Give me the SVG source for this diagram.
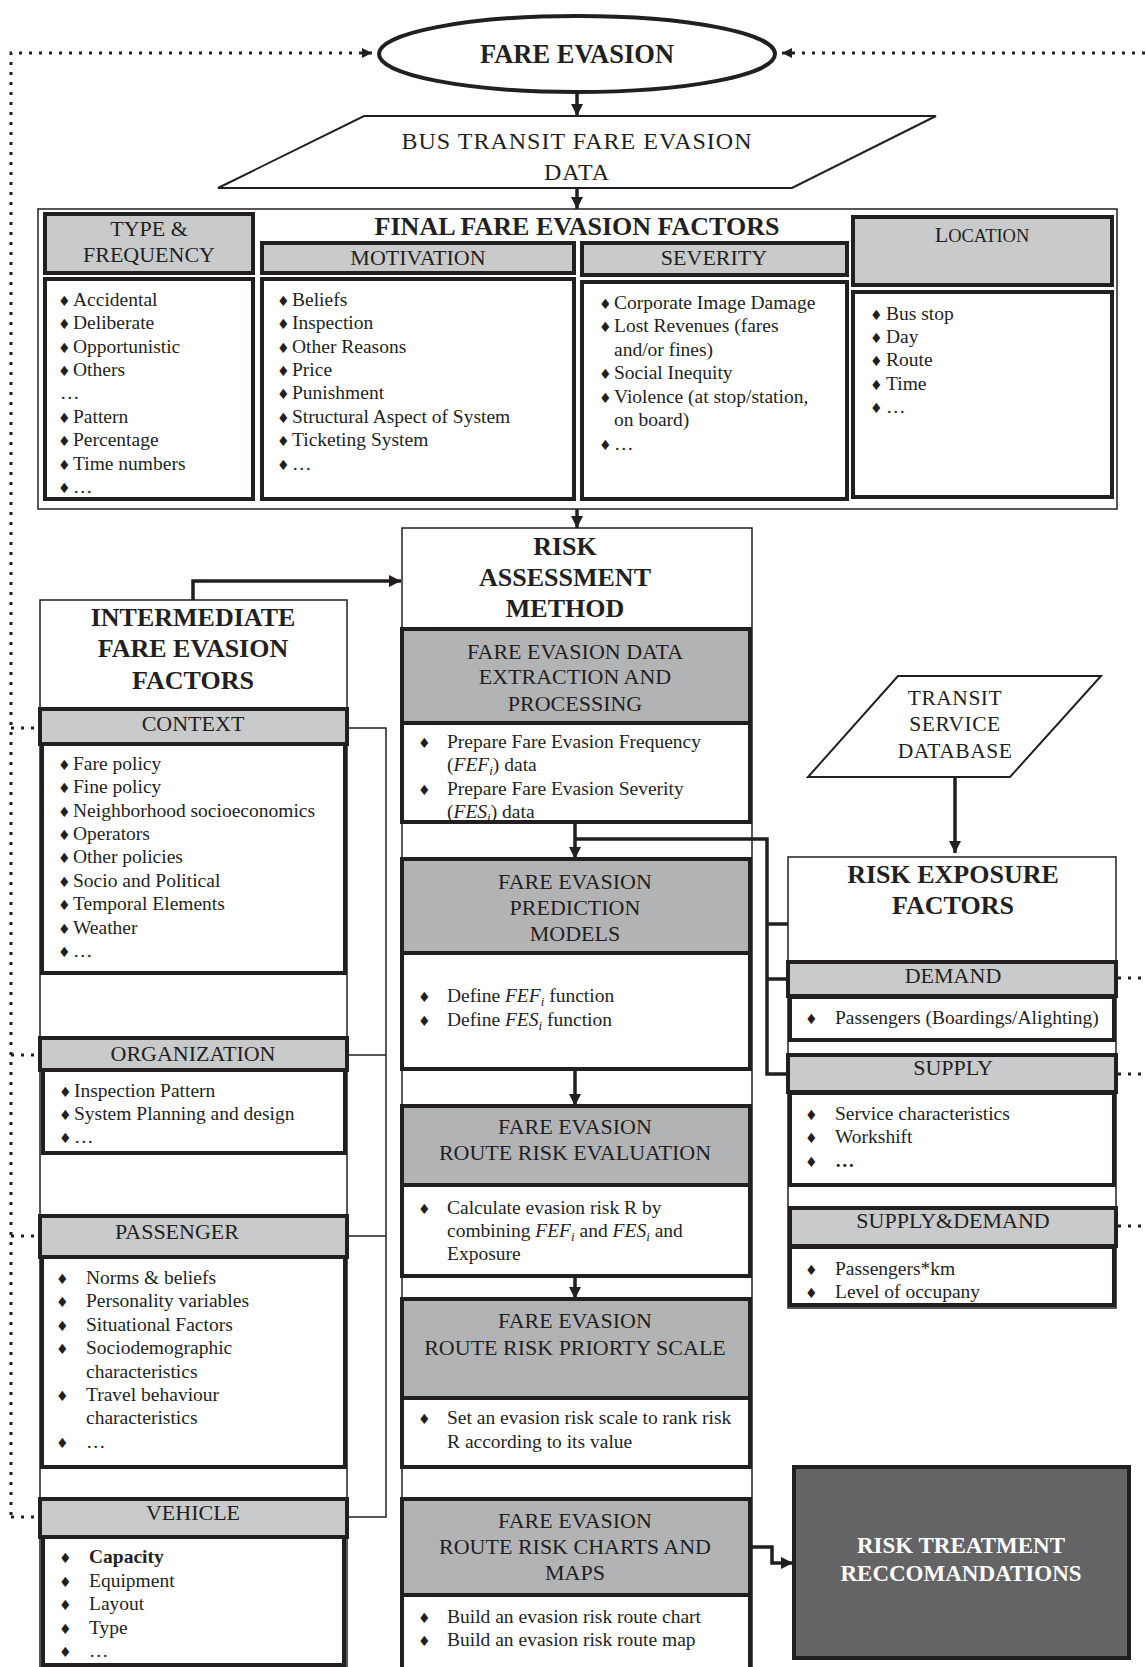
<svg xmlns="http://www.w3.org/2000/svg" width="1145" height="1667" viewBox="0 0 1145 1667">
<style>
text{font-family:"Liberation Serif","DejaVu Serif",serif;fill:#231f20}
.h{font-size:22px;text-anchor:middle}
.b{font-size:26px;font-weight:bold;text-anchor:middle}
.i{font-size:19.5px}
.d{font-size:14px;font-family:"DejaVu Sans",sans-serif}
.it{font-style:italic}
.sub{font-size:13px;font-style:italic}
.lg{fill:#c9cacc;stroke:#231f20;stroke-width:4}
.dg{fill:#b2b3b5;stroke:#231f20;stroke-width:4}
.wb{fill:#fff;stroke:#231f20;stroke-width:4}
.thin{fill:none;stroke:#231f20;stroke-width:1.5}
.con{fill:none;stroke:#231f20;stroke-width:3.5}
.dot{fill:none;stroke:#231f20;stroke-width:3;stroke-dasharray:3 7}
</style>
<defs>
<marker id="ah" viewBox="0 0 10 10" refX="10" refY="5" markerWidth="12" markerHeight="12" markerUnits="userSpaceOnUse" orient="auto">
<path d="M0,0 L10,5 L0,10 z" fill="#231f20"/>
</marker>
<marker id="ahs" viewBox="0 0 10 10" refX="10" refY="5" markerWidth="10" markerHeight="10" markerUnits="userSpaceOnUse" orient="auto">
<path d="M0,0 L10,5 L0,10 z" fill="#231f20"/>
</marker>
</defs>
<rect width="1145" height="1667" fill="#fff"/>

<g id="connectors">
<path class="dot" d="M11,1515 L11,53 L372,53" marker-end="url(#ahs)"/>
<path class="dot" d="M1145,53 L782,53" marker-end="url(#ahs)"/>
<path class="dot" d="M11,728 L36,728 M11,1055 L36,1055 M11,1236 L36,1236 M11,1517 L36,1517"/>
<path class="dot" d="M1118,978 L1145,978 M1118,1074 L1145,1074 M1118,1226 L1145,1226"/>
<path class="con" d="M577,92 L577,116" marker-end="url(#ah)"/>
<path class="con" d="M577,188 L577,209" marker-end="url(#ah)"/>
<path class="con" d="M577,509 L577,528" marker-end="url(#ah)"/>
<path class="con" d="M193,600 L193,581 L401,581" marker-end="url(#ah)"/>
<path class="con" d="M575,822 L575,859" marker-end="url(#ah)"/>
<path class="con" d="M575,839 L767,839 L767,1074 L788,1074 M767,924 L788,924 M767,979 L788,979"/>
<path class="con" d="M575,1069 L575,1106" marker-end="url(#ah)"/>
<path class="con" d="M575,1276 L575,1299" marker-end="url(#ah)"/>
<path class="con" d="M752,1547 L772,1547 L772,1563 L793,1563" marker-end="url(#ah)"/>
<path class="con" d="M955,777 L955,853" marker-end="url(#ah)"/>
<path class="thin" d="M347,728 L386,728 L386,1517 L347,1517 M347,1055 L386,1055 M347,1236 L386,1236"/>
</g>

<g id="fare-evasion">
<ellipse cx="577" cy="54" rx="198" ry="38" fill="#fff" stroke="#231f20" stroke-width="4"/>
<text class="b" x="577" y="63" style="font-size:26.5px">FARE EVASION</text>
</g>

<g id="bus-transit-data">
<polygon points="364,116 936,116 792,188 218,188" fill="#fff" stroke="#231f20" stroke-width="2"/>
<text x="577" y="149" style="font-size:24px;letter-spacing:1px;text-anchor:middle">BUS TRANSIT FARE EVASION</text>
<text x="577" y="180" style="font-size:24px;letter-spacing:1px;text-anchor:middle">DATA</text>
</g>

<g id="final-factors">
<rect class="thin" x="38" y="209" width="1079" height="300"/>
<text class="b" x="577" y="235">FINAL FARE EVASION FACTORS</text>
</g>

<g id="type-frequency">
<rect class="lg" x="45" y="214" width="208" height="59"/>
<text class="h" x="149" y="236">TYPE &amp;</text>
<text class="h" x="149" y="262">FREQUENCY</text>
<rect class="wb" x="45" y="279" width="208" height="220"/>
<text class="i" y="306"><tspan class="d" x="58">♦</tspan><tspan x="73">Accidental</tspan></text>
<text class="i" y="329"><tspan class="d" x="58">♦</tspan><tspan x="73">Deliberate</tspan></text>
<text class="i" y="353"><tspan class="d" x="58">♦</tspan><tspan x="73">Opportunistic</tspan></text>
<text class="i" y="376"><tspan class="d" x="58">♦</tspan><tspan x="73">Others</tspan></text>
<text class="i" x="60" y="399">…</text>
<text class="i" y="423"><tspan class="d" x="58">♦</tspan><tspan x="73">Pattern</tspan></text>
<text class="i" y="446"><tspan class="d" x="58">♦</tspan><tspan x="73">Percentage</tspan></text>
<text class="i" y="470"><tspan class="d" x="58">♦</tspan><tspan x="73">Time numbers</tspan></text>
<text class="i" y="493"><tspan class="d" x="58">♦</tspan><tspan x="73">…</tspan></text>
</g>

<g id="motivation">
<rect class="lg" x="262" y="243" width="312" height="30"/>
<text class="h" x="418" y="265">MOTIVATION</text>
<rect class="wb" x="262" y="279" width="312" height="220"/>
<text class="i" y="306"><tspan class="d" x="277">♦</tspan><tspan x="292">Beliefs</tspan></text>
<text class="i" y="329"><tspan class="d" x="277">♦</tspan><tspan x="292">Inspection</tspan></text>
<text class="i" y="353"><tspan class="d" x="277">♦</tspan><tspan x="292">Other Reasons</tspan></text>
<text class="i" y="376"><tspan class="d" x="277">♦</tspan><tspan x="292">Price</tspan></text>
<text class="i" y="399"><tspan class="d" x="277">♦</tspan><tspan x="292">Punishment</tspan></text>
<text class="i" y="423"><tspan class="d" x="277">♦</tspan><tspan x="292">Structural Aspect of System</tspan></text>
<text class="i" y="446"><tspan class="d" x="277">♦</tspan><tspan x="292">Ticketing System</tspan></text>
<text class="i" y="470"><tspan class="d" x="277">♦</tspan><tspan x="292">…</tspan></text>
</g>

<g id="severity">
<rect class="lg" x="582" y="243" width="265" height="32"/>
<text class="h" x="714" y="265">SEVERITY</text>
<rect class="wb" x="582" y="282" width="265" height="217"/>
<text class="i" y="309"><tspan class="d" x="599">♦</tspan><tspan x="614">Corporate Image Damage</tspan></text>
<text class="i" y="332"><tspan class="d" x="599">♦</tspan><tspan x="614">Lost Revenues (fares</tspan></text>
<text class="i" x="614" y="356">and/or fines)</text>
<text class="i" y="379"><tspan class="d" x="599">♦</tspan><tspan x="614">Social Inequity</tspan></text>
<text class="i" y="403"><tspan class="d" x="599">♦</tspan><tspan x="614">Violence (at stop/station,</tspan></text>
<text class="i" x="614" y="426">on board)</text>
<text class="i" y="450"><tspan class="d" x="599">♦</tspan><tspan x="614">…</tspan></text>
</g>

<g id="location">
<rect class="lg" x="853" y="217" width="259" height="68"/>
<text class="h" x="982" y="242">L<tspan style="font-size:18.5px">OCATION</tspan></text>
<rect class="wb" x="853" y="292" width="259" height="205"/>
<text class="i" y="320"><tspan class="d" x="870">♦</tspan><tspan x="886">Bus stop</tspan></text>
<text class="i" y="343"><tspan class="d" x="870">♦</tspan><tspan x="886">Day</tspan></text>
<text class="i" y="366"><tspan class="d" x="870">♦</tspan><tspan x="886">Route</tspan></text>
<text class="i" y="390"><tspan class="d" x="870">♦</tspan><tspan x="886">Time</tspan></text>
<text class="i" y="413"><tspan class="d" x="870">♦</tspan><tspan x="886">…</tspan></text>
</g>

<g id="risk-assessment">
<rect class="thin" x="402" y="528" width="350" height="1150"/>
<text class="b" x="565" y="555">RISK</text>
<text class="b" x="565" y="586">ASSESSMENT</text>
<text class="b" x="565" y="617">METHOD</text>
</g>

<g id="data-extraction">
<rect class="dg" x="402" y="629" width="348" height="94"/>
<text class="h" x="575" y="659">FARE EVASION DATA</text>
<text class="h" x="575" y="684">EXTRACTION AND</text>
<text class="h" x="575" y="711">PROCESSING</text>
<rect class="wb" x="402" y="723" width="348" height="99"/>
<text class="i" y="748"><tspan class="d" x="418">♦</tspan><tspan x="447">Prepare Fare Evasion Frequency</tspan></text>
<text class="i" x="447" y="771">(<tspan class="it">FEF</tspan><tspan class="sub" dy="4">i</tspan><tspan dy="-4">) data</tspan></text>
<text class="i" y="795"><tspan class="d" x="418">♦</tspan><tspan x="447">Prepare Fare Evasion Severity</tspan></text>
<text class="i" x="447" y="818">(<tspan class="it">FES</tspan><tspan class="sub" dy="4">i</tspan><tspan dy="-4">) data</tspan></text>
<rect x="402" y="820" width="348" height="4" fill="#231f20"/>
</g>

<g id="prediction-models">
<rect class="dg" x="402" y="859" width="348" height="94"/>
<text class="h" x="575" y="889">FARE EVASION</text>
<text class="h" x="575" y="915">PREDICTION</text>
<text class="h" x="575" y="941">MODELS</text>
<rect class="wb" x="402" y="953" width="348" height="116"/>
<text class="i" y="1002"><tspan class="d" x="418">♦</tspan><tspan x="447">Define </tspan><tspan class="it">FEF</tspan><tspan class="sub" dy="4">i</tspan><tspan dy="-4"> function</tspan></text>
<text class="i" y="1026"><tspan class="d" x="418">♦</tspan><tspan x="447">Define </tspan><tspan class="it">FES</tspan><tspan class="sub" dy="4">i</tspan><tspan dy="-4"> function</tspan></text>
</g>

<g id="risk-evaluation">
<rect class="dg" x="402" y="1106" width="348" height="79"/>
<text class="h" x="575" y="1134">FARE EVASION</text>
<text class="h" x="575" y="1160">ROUTE RISK EVALUATION</text>
<rect class="wb" x="402" y="1185" width="348" height="91"/>
<text class="i" y="1214"><tspan class="d" x="418">♦</tspan><tspan x="447">Calculate evasion risk R by</tspan></text>
<text class="i" x="447" y="1237">combining <tspan class="it">FEF</tspan><tspan class="sub" dy="4">i</tspan><tspan dy="-4"> and </tspan><tspan class="it">FES</tspan><tspan class="sub" dy="4">i</tspan><tspan dy="-4"> and</tspan></text>
<text class="i" x="447" y="1260">Exposure</text>
</g>

<g id="priority-scale">
<rect class="dg" x="402" y="1299" width="348" height="99"/>
<text class="h" x="575" y="1328">FARE EVASION</text>
<text class="h" x="575" y="1355">ROUTE RISK PRIORTY SCALE</text>
<rect class="wb" x="402" y="1398" width="348" height="69"/>
<text class="i" y="1424"><tspan class="d" x="418">♦</tspan><tspan x="447">Set an evasion risk scale to rank risk</tspan></text>
<text class="i" x="447" y="1448">R according to its value</text>
</g>

<g id="charts-maps">
<rect class="dg" x="402" y="1499" width="348" height="96"/>
<text class="h" x="575" y="1528">FARE EVASION</text>
<text class="h" x="575" y="1554">ROUTE RISK CHARTS AND</text>
<text class="h" x="575" y="1580">MAPS</text>
<rect class="wb" x="402" y="1595" width="348" height="80"/>
<text class="i" y="1623"><tspan class="d" x="418">♦</tspan><tspan x="447">Build an evasion risk route chart</tspan></text>
<text class="i" y="1646"><tspan class="d" x="418">♦</tspan><tspan x="447">Build an evasion risk route map</tspan></text>
</g>

<g id="risk-treatment">
<rect x="794" y="1467" width="335" height="191" fill="#646466" stroke="#231f20" stroke-width="4"/>
<text class="b" x="961" y="1553" style="font-size:23px;fill:#fff">RISK TREATMENT</text>
<text class="b" x="961" y="1581" style="font-size:23px;fill:#fff">RECCOMANDATIONS</text>
</g>

<g id="intermediate-factors">
<rect class="thin" x="40" y="600" width="307" height="1075"/>
<text class="b" x="193" y="626">INTERMEDIATE</text>
<text class="b" x="193" y="657">FARE EVASION</text>
<text class="b" x="193" y="689">FACTORS</text>
</g>

<g id="context">
<rect class="lg" x="40" y="709" width="307" height="35"/>
<text class="h" x="193" y="731">CONTEXT</text>
<rect class="wb" x="42" y="744" width="303" height="229"/>
<text class="i" y="770"><tspan class="d" x="58">♦</tspan><tspan x="73">Fare policy</tspan></text>
<text class="i" y="793"><tspan class="d" x="58">♦</tspan><tspan x="73">Fine policy</tspan></text>
<text class="i" y="817"><tspan class="d" x="58">♦</tspan><tspan x="73">Neighborhood socioeconomics</tspan></text>
<text class="i" y="840"><tspan class="d" x="58">♦</tspan><tspan x="73">Operators</tspan></text>
<text class="i" y="863"><tspan class="d" x="58">♦</tspan><tspan x="73">Other policies</tspan></text>
<text class="i" y="887"><tspan class="d" x="58">♦</tspan><tspan x="73">Socio and Political</tspan></text>
<text class="i" y="910"><tspan class="d" x="58">♦</tspan><tspan x="73">Temporal Elements</tspan></text>
<text class="i" y="934"><tspan class="d" x="58">♦</tspan><tspan x="73">Weather</tspan></text>
<text class="i" y="957"><tspan class="d" x="58">♦</tspan><tspan x="73">…</tspan></text>
</g>

<g id="organization">
<rect class="lg" x="40" y="1038" width="307" height="32"/>
<text class="h" x="193" y="1061">ORGANIZATION</text>
<rect class="wb" x="43" y="1070" width="302" height="83"/>
<text class="i" y="1097"><tspan class="d" x="59">♦</tspan><tspan x="74">Inspection Pattern</tspan></text>
<text class="i" y="1120"><tspan class="d" x="59">♦</tspan><tspan x="74">System Planning and design</tspan></text>
<text class="i" y="1143"><tspan class="d" x="59">♦</tspan><tspan x="74">…</tspan></text>
</g>

<g id="passenger">
<rect class="lg" x="40" y="1216" width="307" height="41"/>
<text class="h" x="177" y="1239">PASSENGER</text>
<rect class="wb" x="42" y="1257" width="303" height="210"/>
<text class="i" y="1284"><tspan class="d" x="56">♦</tspan><tspan x="86">Norms &amp; beliefs</tspan></text>
<text class="i" y="1307"><tspan class="d" x="56">♦</tspan><tspan x="86">Personality variables</tspan></text>
<text class="i" y="1331"><tspan class="d" x="56">♦</tspan><tspan x="86">Situational Factors</tspan></text>
<text class="i" y="1354"><tspan class="d" x="56">♦</tspan><tspan x="86">Sociodemographic</tspan></text>
<text class="i" x="86" y="1378">characteristics</text>
<text class="i" y="1401"><tspan class="d" x="56">♦</tspan><tspan x="86">Travel behaviour</tspan></text>
<text class="i" x="86" y="1424">characteristics</text>
<text class="i" y="1448"><tspan class="d" x="56">♦</tspan><tspan x="86">…</tspan></text>
</g>

<g id="vehicle">
<rect class="lg" x="40" y="1499" width="307" height="38"/>
<text class="h" x="193" y="1520">VEHICLE</text>
<rect class="wb" x="43" y="1537" width="301" height="128"/>
<text class="i" y="1563"><tspan class="d" x="59">♦</tspan><tspan x="89" font-weight="bold">Capacity</tspan></text>
<text class="i" y="1587"><tspan class="d" x="59">♦</tspan><tspan x="89">Equipment</tspan></text>
<text class="i" y="1610"><tspan class="d" x="59">♦</tspan><tspan x="89">Layout</tspan></text>
<text class="i" y="1634"><tspan class="d" x="59">♦</tspan><tspan x="89">Type</tspan></text>
<text class="i" y="1657"><tspan class="d" x="59">♦</tspan><tspan x="89">…</tspan></text>
</g>

<g id="transit-service-database">
<polygon points="898,676 1101,676 1010,777 808,777" fill="#fff" stroke="#231f20" stroke-width="2"/>
<text x="955" y="705" style="font-size:21.5px;letter-spacing:0.5px;text-anchor:middle">TRANSIT</text>
<text x="955" y="731" style="font-size:21.5px;letter-spacing:0.5px;text-anchor:middle">SERVICE</text>
<text x="955" y="758" style="font-size:21.5px;letter-spacing:0.5px;text-anchor:middle">DATABASE</text>
</g>

<g id="risk-exposure">
<rect class="thin" x="788" y="857" width="328" height="451"/>
<text class="b" x="953" y="883">RISK EXPOSURE</text>
<text class="b" x="953" y="914">FACTORS</text>
</g>

<g id="demand">
<rect class="lg" x="788" y="962" width="328" height="34"/>
<text class="h" x="953" y="983">DEMAND</text>
<rect class="wb" x="790" y="997" width="324" height="43"/>
<text class="i" y="1024"><tspan class="d" x="805">♦</tspan><tspan x="835">Passengers (Boardings/Alighting)</tspan></text>
</g>

<g id="supply">
<rect class="lg" x="788" y="1055" width="328" height="37"/>
<text class="h" x="953" y="1075">SUPPLY</text>
<rect class="wb" x="790" y="1093" width="324" height="92"/>
<text class="i" y="1120"><tspan class="d" x="805">♦</tspan><tspan x="835">Service characteristics</tspan></text>
<text class="i" y="1143"><tspan class="d" x="805">♦</tspan><tspan x="835">Workshift</tspan></text>
<text class="i" y="1167"><tspan class="d" x="805">♦</tspan><tspan x="835" font-weight="bold">…</tspan></text>
</g>

<g id="supply-demand">
<rect class="lg" x="790" y="1208" width="326" height="38"/>
<text class="h" x="953" y="1228">SUPPLY&amp;DEMAND</text>
<rect class="wb" x="790" y="1247" width="324" height="58"/>
<text class="i" y="1275"><tspan class="d" x="805">♦</tspan><tspan x="835">Passengers*km</tspan></text>
<text class="i" y="1298"><tspan class="d" x="805">♦</tspan><tspan x="835">Level of occupany</tspan></text>
</g>
</svg>
